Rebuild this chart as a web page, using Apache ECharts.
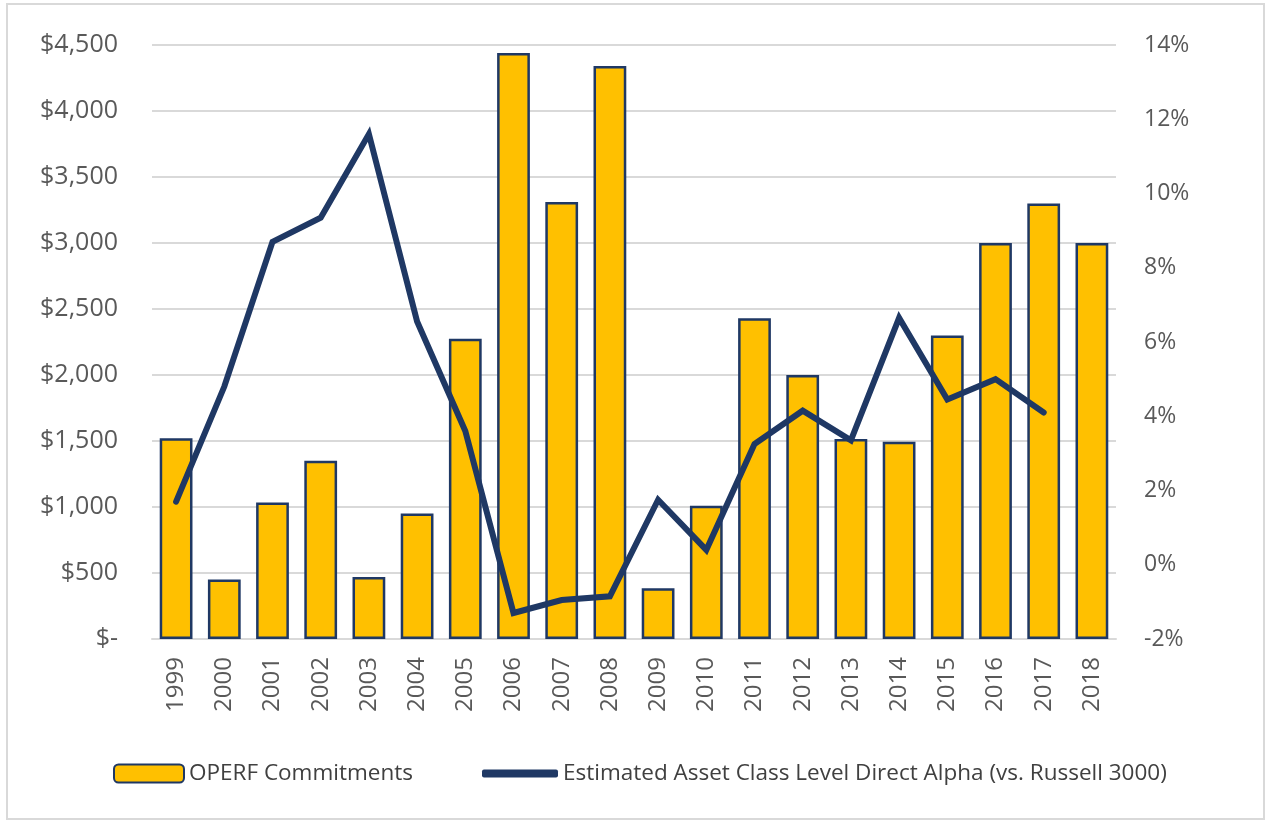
<!DOCTYPE html>
<html><head><meta charset="utf-8">
<script src="https://cdn.jsdelivr.net/npm/echarts@6/dist/echarts.min.js"></script>
<style>html,body{margin:0;padding:0;background:#fff}#c{width:1270px;height:823px}</style>
</head><body><div id="c"></div>
<script>
const years = ['1999','2000','2001','2002','2003','2004','2005','2006','2007','2008','2009','2010','2011','2012','2013','2014','2015','2016','2017','2018'];
const commitments = [1520,450,1035,1350,470,950,2275,4440,3310,4340,385,1010,2430,2000,1515,1495,2300,3000,3300,3000];
const alpha = [1.7,4.8,8.7,9.35,11.6,6.55,3.6,-1.3,-0.95,-0.85,1.75,0.4,3.25,4.15,3.35,6.65,4.45,5.0,4.1,null];
const leftTicks = {min:0, max:4500, interval:500};
const rightTicks = {min:-2, max:14, interval:2};

const chart = echarts.init(document.getElementById('c'));
const font = 'Open Sans, Noto Sans, sans-serif';
chart.setOption({
  animation:false,
  textStyle:{fontFamily:font},
  graphic:[{type:'rect',shape:{x:7,y:4,width:1257,height:815},style:{fill:null,stroke:'#d9d9d9',lineWidth:2},silent:true}],
  grid:{left:152,right:154,top:45,bottom:184},
  legend:[
    {data:['OPERF Commitments'],left:108,top:757,itemWidth:70,itemHeight:18,itemGap:0,
     textStyle:{fontSize:22.5,color:'#404040',fontFamily:font}},
    {data:[{name:'Estimated Asset Class Level Direct Alpha (vs. Russell 3000)',icon:'roundRect'}],left:477,top:757,itemWidth:76,itemHeight:8,
     textStyle:{fontSize:22.5,color:'#404040',fontFamily:font}}
  ],
  xAxis:{type:'category',data:years,
    axisLine:{show:true,lineStyle:{color:'#d9d9d9',width:2}},axisTick:{show:false},
    axisLabel:{rotate:90,fontSize:24,color:'#595959',margin:18,interval:0}},
  yAxis:[
    {type:'value',min:leftTicks.min,max:leftTicks.max,interval:leftTicks.interval,
     axisLine:{show:false},axisTick:{show:false},
     splitLine:{lineStyle:{color:'#d9d9d9',width:2}},
     axisLabel:{fontSize:25,color:'#595959',margin:34,
       formatter:v=> v===0 ? '$-' : '$'+v.toLocaleString('en-US')}},
    {type:'value',min:rightTicks.min,max:rightTicks.max,interval:rightTicks.interval,
     axisLine:{show:false},axisTick:{show:false},splitLine:{show:false},
     axisLabel:{fontSize:23,color:'#595959',margin:28,formatter:'{value}%'}}
  ],
  series:[
    {name:'OPERF Commitments',type:'bar',data:commitments,barWidth:'68%',
     itemStyle:{color:'#ffc000',borderColor:'#1f3864',borderWidth:2.5}},
    {name:'Estimated Asset Class Level Direct Alpha (vs. Russell 3000)',type:'line',yAxisIndex:1,data:alpha,
     symbol:'none',lineStyle:{color:'#1f3864',width:6,cap:'round',join:'miter'},itemStyle:{color:'#1f3864'}}
  ]
});
</script></body></html>
